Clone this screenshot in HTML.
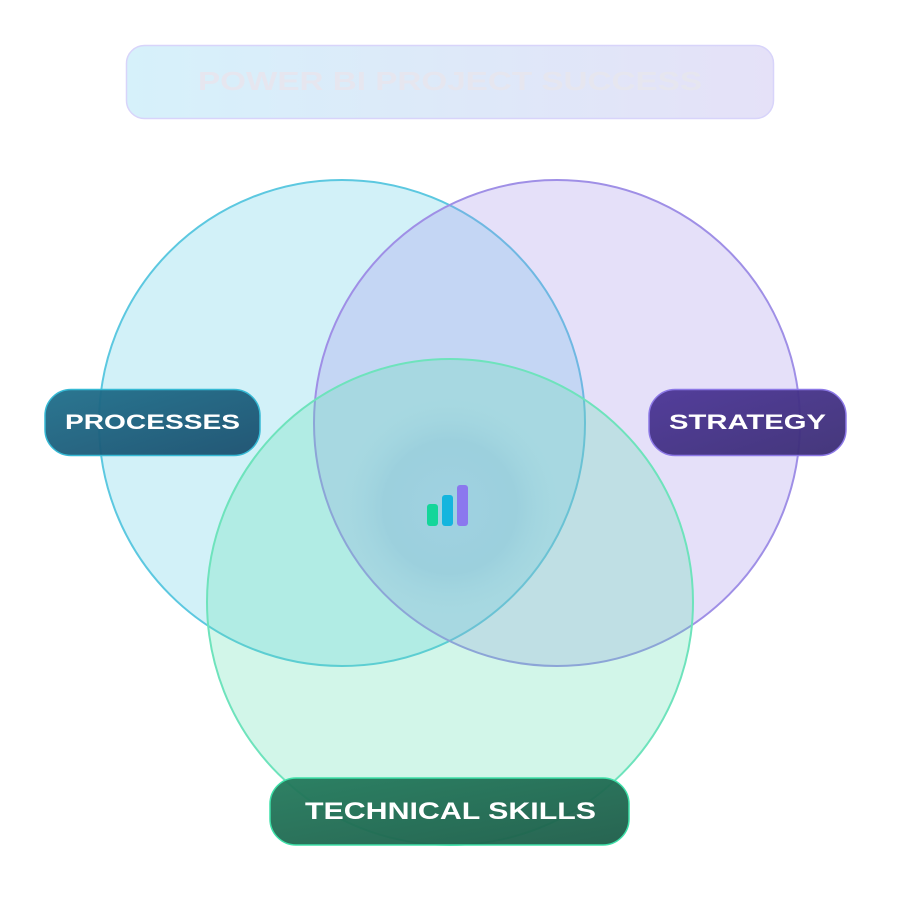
<!DOCTYPE html>
<html><head><meta charset="utf-8"><style>
html,body{margin:0;padding:0;background:#fff;}
svg{display:block;}
text{font-family:"Liberation Sans",sans-serif;font-weight:bold;}
</style></head><body>
<svg width="900" height="900" viewBox="0 0 900 900" xmlns="http://www.w3.org/2000/svg">
<defs>
<linearGradient id="tg" x1="0" x2="1"><stop offset="0" stop-color="#d6f1fa"/><stop offset="1" stop-color="#e5e1f8"/></linearGradient>
<linearGradient id="pg" x1="0" x2="1" y1="0" y2="1"><stop offset="0" stop-color="#1f6f8b"/><stop offset="1" stop-color="#1a4f6e"/></linearGradient>
<linearGradient id="sg" x1="0" x2="1" y1="0" y2="1"><stop offset="0" stop-color="#4b3596"/><stop offset="1" stop-color="#3b2d74"/></linearGradient>
<linearGradient id="kg" x1="0" x2="1" y1="0" y2="1"><stop offset="0" stop-color="#237a5c"/><stop offset="1" stop-color="#1c5c48"/></linearGradient>
<radialGradient id="cg"><stop offset="0" stop-color="#9bcde3" stop-opacity="0.55"/><stop offset="0.6" stop-color="#8ec6d8" stop-opacity="0.45"/><stop offset="1" stop-color="#9dd6df" stop-opacity="0"/></radialGradient>
</defs>
<rect x="126.5" y="45.5" width="647" height="73" rx="18" fill="url(#tg)" stroke="#d8d4fa" stroke-width="1.5"/>
<text x="198" y="90" font-size="26" fill="#e6e6ef" font-weight="normal" textLength="504" lengthAdjust="spacingAndGlyphs">POWER BI PROJECT SUCCESS</text>
<circle cx="342" cy="423" r="243" fill="#5fcbe6" fill-opacity="0.28" stroke="#5cc8e0" stroke-width="2"/>
<circle cx="557" cy="423" r="243" fill="#a08ee8" fill-opacity="0.28" stroke="#9f8fe6" stroke-width="2"/>
<circle cx="450" cy="602" r="243" fill="#5fe0b0" fill-opacity="0.28" stroke="#6ee3bc" stroke-width="2"/>
<circle cx="450" cy="507" r="110" fill="url(#cg)"/>
<rect x="427" y="504" width="11" height="22" rx="3" fill="#14d69a"/>
<rect x="442" y="495" width="11" height="31" rx="3" fill="#14b5de"/>
<rect x="457" y="485" width="11" height="41" rx="3" fill="#8b78ee"/>
<rect x="45" y="389.5" width="215" height="66" rx="26" fill="url(#pg)" fill-opacity="0.95" stroke="#36b9d4" stroke-width="1.5"/>
<text x="65" y="429" font-size="21" fill="#fff" textLength="175" lengthAdjust="spacingAndGlyphs">PROCESSES</text>
<rect x="649" y="389.5" width="197" height="66" rx="26" fill="url(#sg)" fill-opacity="0.95" stroke="#8c78e6" stroke-width="1.5"/>
<text x="669" y="429" font-size="21" fill="#fff" textLength="157" lengthAdjust="spacingAndGlyphs">STRATEGY</text>
<rect x="270" y="778" width="359" height="67" rx="26" fill="url(#kg)" fill-opacity="0.95" stroke="#3ee0a8" stroke-width="1.5"/>
<text x="305" y="819" font-size="24" fill="#fff" textLength="291" lengthAdjust="spacingAndGlyphs">TECHNICAL SKILLS</text>
</svg>
</body></html>
